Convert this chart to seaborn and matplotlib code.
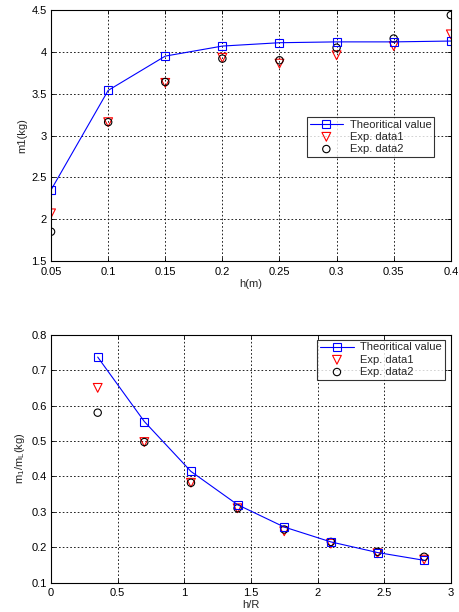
import matplotlib
matplotlib.use("Agg")
import matplotlib.pyplot as plt
import seaborn as sns
import pandas as pd

# Top panel data
h_m = [0.05, 0.10, 0.15, 0.20, 0.25, 0.30, 0.35, 0.40]
m1_theory = [2.35, 3.54, 3.95, 4.07, 4.11, 4.12, 4.12, 4.13]
m1_exp1 = [2.07, 3.16, 3.63, 3.93, 3.86, 3.96, 4.07, 4.21]
m1_exp2 = [1.85, 3.16, 3.64, 3.92, 3.90, 4.05, 4.16, 4.44]

# Bottom panel data
h_R = [0.35, 0.70, 1.05, 1.40, 1.75, 2.10, 2.45, 2.80]
ratio_theory = [0.737, 0.555, 0.414, 0.320, 0.257, 0.215, 0.185, 0.163]
ratio_exp1 = [0.650, 0.497, 0.382, 0.310, 0.245, 0.210, 0.183, 0.165]
ratio_exp2 = [0.580, 0.497, 0.382, 0.310, 0.250, 0.215, 0.187, 0.173]

labels = ["Theoritical value", "Exp. data1", "Exp. data2"]

sns.set_style("white")
plt.rcParams['font.family'] = ['Liberation Sans', 'DejaVu Sans']
plt.rcParams['font.size'] = 8

FS = 8

fig = plt.figure(figsize=(4.6, 6.12), dpi=100)
ax1 = fig.add_axes([0.111, 0.5735, 0.869, 0.41])
ax2 = fig.add_axes([0.111, 0.048, 0.869, 0.405])


def draw(ax, x, t, e1, e2):
    sns.lineplot(x=x, y=t, ax=ax, color='#0000ff', linewidth=0.8, marker='s',
                 markersize=6, markerfacecolor='none', markeredgecolor='#0000ff',
                 markeredgewidth=0.8, label=labels[0])
    sns.scatterplot(x=x, y=e1, ax=ax, marker='v', s=40, facecolor='none',
                    edgecolor='#ff0000', linewidth=0.8, label=labels[1])
    sns.scatterplot(x=x, y=e2, ax=ax, marker='o', s=28, facecolor='none',
                    edgecolor='black', linewidth=0.8, label=labels[2])
    ax.grid(True, color='black', linestyle=(0, (2, 2.5)), linewidth=0.6)
    ax.set_axisbelow(True)
    for s in ax.spines.values():
        s.set_color('black')
        s.set_linewidth(0.8)
    ax.tick_params(direction='in', length=3, width=0.6, colors='black',
                   labelsize=FS, top=True, right=True, bottom=True, left=True)
    ax.tick_params(axis='x', pad=4)
    ax.tick_params(axis='y', pad=3)


draw(ax1, h_m, m1_theory, m1_exp1, m1_exp2)
ax1.set_xlim(0.05, 0.4)
ax1.set_ylim(1.5, 4.5)
ax1.set_xticks([0.05, 0.1, 0.15, 0.2, 0.25, 0.3, 0.35, 0.4])
ax1.set_xticklabels(['0.05', '0.1', '0.15', '0.2', '0.25', '0.3', '0.35', '0.4'])
ax1.set_yticks([1.5, 2, 2.5, 3, 3.5, 4, 4.5])
ax1.set_yticklabels(['1.5', '2', '2.5', '3', '3.5', '4', '4.5'])
ax1.set_xlabel('h(m)', fontsize=FS, labelpad=2)
ax1.set_ylabel('m1(kg)', fontsize=FS, labelpad=3)
leg1 = ax1.legend(loc='upper left', bbox_to_anchor=(0.64, 0.575), fontsize=FS,
                  frameon=True, fancybox=False, edgecolor='black',
                  handlelength=3.0, borderpad=0.25, labelspacing=0.2,
                  handletextpad=0.6, borderaxespad=0)
leg1.get_frame().set_linewidth(0.8)

draw(ax2, h_R, ratio_theory, ratio_exp1, ratio_exp2)
ax2.set_xlim(0, 3)
ax2.set_ylim(0.1, 0.8)
ax2.set_xticks([0, 0.5, 1, 1.5, 2, 2.5, 3])
ax2.set_xticklabels(['0', '0.5', '1', '1.5', '2', '2.5', '3'])
ax2.set_yticks([0.1, 0.2, 0.3, 0.4, 0.5, 0.6, 0.7, 0.8])
ax2.set_yticklabels(['0.1', '0.2', '0.3', '0.4', '0.5', '0.6', '0.7', '0.8'])
ax2.set_xlabel('h/R', fontsize=FS, labelpad=1)
ax2.set_ylabel(r'm$_\mathregular{1}$/m$_\mathregular{L}$(kg)', fontsize=FS, labelpad=3)
leg2 = ax2.legend(loc='upper right', bbox_to_anchor=(0.985, 0.98), fontsize=FS,
                  frameon=True, fancybox=False, edgecolor='black',
                  handlelength=3.0, borderpad=0.25, labelspacing=0.2,
                  handletextpad=0.6, borderaxespad=0)
leg2.get_frame().set_linewidth(0.8)

fig.savefig('out.png', dpi=100)
